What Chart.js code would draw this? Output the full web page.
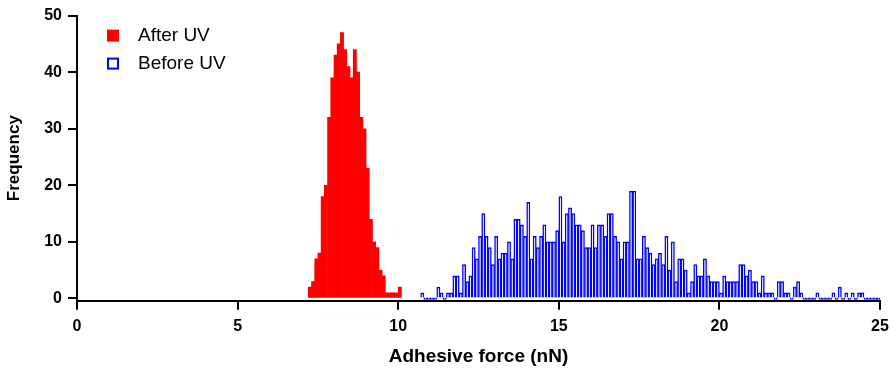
<!DOCTYPE html>
<html>
<head>
<meta charset="utf-8">
<title>Adhesive force histogram</title>
<script src="https://cdn.jsdelivr.net/npm/chart.js@4/dist/chart.umd.min.js"></script>
<style>
    body { margin: 0; background: #ffffff; }
    .chart-box { width: 896px; height: 369px; }
</style>
</head>
<body>
<div class="chart-box"><canvas id="adhesive-force"></canvas></div>
<script>
// Histogram data, bins of 0.1 nN
var binWidth = 0.1;
var afterStart = 7.2;
var afterCounts = [2, 3, 7, 8, 18, 20, 32, 39, 43, 45,
    47, 44, 41, 39, 44, 40, 32, 30, 23, 14,
    10, 9, 5, 4, 1, 1, 1, 1, 2];
var beforeStart = 10.7;
var beforeCounts = [1, 0, 0, 0, 0, 2, 1, 0, 1, 1,
    4, 4, 1, 6, 3, 4, 9, 7, 11, 15,
    11, 9, 6, 11, 7, 8, 8, 10, 7, 14,
    14, 13, 11, 17, 7, 11, 9, 11, 13, 10,
    10, 10, 12, 18, 10, 15, 16, 15, 13, 13,
    12, 9, 9, 13, 9, 13, 13, 11, 15, 15,
    11, 10, 7, 10, 10, 19, 19, 7, 7, 11,
    9, 8, 6, 7, 8, 6, 11, 5, 10, 3,
    7, 7, 5, 1, 3, 6, 4, 4, 7, 4,
    3, 3, 3, 1, 4, 3, 3, 3, 3, 6,
    6, 4, 5, 3, 3, 1, 4, 1, 1, 1,
    0, 3, 3, 1, 1, 0, 2, 3, 1, 0,
    0, 0, 0, 1, 0, 0, 0, 0, 1, 0,
    2, 0, 1, 0, 1, 0, 1, 1, 0, 0,
    0, 0, 0];
var xTicks = [0, 5, 10, 15, 20, 25];
var yTicks = [0, 10, 20, 30, 40, 50];
var seriesLabels = ["After UV", "Before UV"];
var xTitle = "Adhesive force (nN)";
var yTitle = "Frequency";

// bin centres -> {x, y}
function toPoints(start, counts) {
    return counts.map(function (c, i) {
        return {x: Math.round((start + (i + 0.5) * binWidth) * 100) / 100, y: c};
    });
}

var fontFamily = '"Liberation Sans", Arial, Helvetica, sans-serif';
Chart.defaults.color = "#000000";
Chart.defaults.font.family = fontFamily;

// Legend drawn inside the plot, top left
var insideLegend = {
    id: 'insideLegend',
    afterDraw: function (chart) {
        var ctx = chart.ctx;
        var left = chart.chartArea.left + 30;
        var top = chart.chartArea.top + 14;
        ctx.save();
        ctx.font = '19px ' + fontFamily;
        ctx.textBaseline = 'middle';
        ctx.textAlign = 'left';
        chart.data.datasets.forEach(function (ds, i) {
            var y = top + i * 28;
            ctx.fillStyle = ds.backgroundColor;
            ctx.fillRect(left, y, 12, 12);
            if (ds.borderWidth) {
                ctx.lineWidth = 2;
                ctx.strokeStyle = ds.borderColor;
                ctx.strokeRect(left + 1, y + 1, 10, 10);
            }
            ctx.fillStyle = "#000000";
            ctx.fillText(ds.label, left + 31, y + 6);
        });
        ctx.restore();
    }
};

var ctx1 = document.getElementById("adhesive-force").getContext("2d");
var myChart1 = new Chart(ctx1, {
    type: "bar",
    data: {
        datasets: [{
                label: seriesLabels[0],
                data: toPoints(afterStart, afterCounts),
                backgroundColor: "#ff0000",
                borderWidth: 0,
                grouped: false,
                barPercentage: 1,
                categoryPercentage: 1
            }, {
                label: seriesLabels[1],
                data: toPoints(beforeStart, beforeCounts),
                backgroundColor: "#ffffff",
                borderColor: "#0000ff",
                borderWidth: 1.5,
                minBarLength: 2,
                grouped: false,
                barPercentage: 1,
                categoryPercentage: 1
            }
        ]
    },
    options: {
        responsive: true,
        maintainAspectRatio: false,
        animation: false,
        layout: {padding: {top: 12, right: 16, left: 0, bottom: 0}},
        plugins: {
            legend: {display: false},
            tooltip: {enabled: false}
        },
        scales: {
            x: {
                type: "linear",
                min: 0,
                max: 25,
                offset: false,
                afterBuildTicks: function (scale) {
                    scale.ticks = xTicks.map(function (v) { return {value: v}; });
                },
                afterFit: function (scale) { scale.height = 68.3; },
                grid: {drawOnChartArea: false, offset: false, color: "#000000", lineWidth: 2, tickLength: 9},
                border: {display: true, color: "#000000", width: 2},
                ticks: {font: {size: 16, weight: "bold"}, padding: 7, maxRotation: 0},
                title: {display: true, text: xTitle, font: {size: 19, weight: "bold"}, padding: {top: 0, bottom: 1}}
            },
            y: {
                min: -0.4,
                max: 50,
                afterBuildTicks: function (scale) {
                    scale.ticks = yTicks.map(function (v) { return {value: v}; });
                },
                afterFit: function (scale) { scale.width = 77; },
                grid: {drawOnChartArea: false, color: "#000000", lineWidth: 2, tickLength: 9},
                border: {display: true, color: "#000000", width: 2},
                ticks: {font: {size: 16, weight: "bold"}, padding: 6},
                title: {display: true, text: yTitle, font: {size: 17, weight: "bold"}, padding: {top: 4, bottom: 0}}
            }
        }
    },
    plugins: [insideLegend]
});
</script>
</body>
</html>
